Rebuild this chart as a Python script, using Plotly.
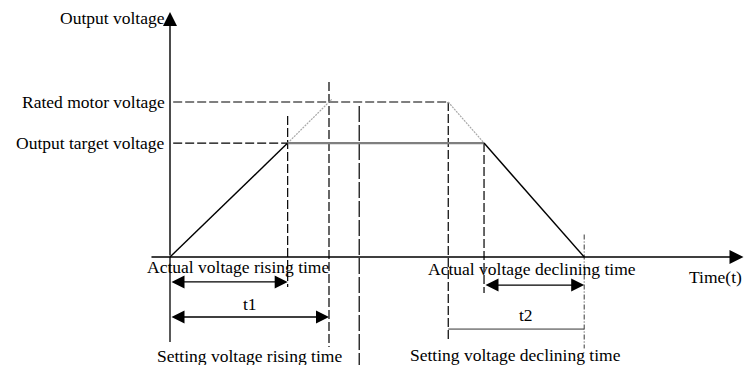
import plotly.graph_objects as go

# Voltage levels, per unit of rated motor voltage
V_RATED = 1.0
V_TARGET = 0.735

# Time instants (common time unit; setting rise time = 1)
T_ACTUAL_RISE_END = 0.74
T_SET_RISE_END = 1.0
T_MARK = 1.19
T_SET_DECL_START = 1.75
T_ACTUAL_DECL_START = 1.975
T_DECL_END = 2.605

# Actual output voltage profile
rise_t = [0.0, T_ACTUAL_RISE_END]
rise_v = [0.0, V_TARGET]
hold_t = [T_ACTUAL_RISE_END, T_ACTUAL_DECL_START]
hold_v = [V_TARGET, V_TARGET]
fall_t = [T_ACTUAL_DECL_START, T_DECL_END]
fall_v = [V_TARGET, 0.0]

# Setting ramps (towards / from rated voltage)
set_rise_t = [T_ACTUAL_RISE_END, 1.02]
set_rise_v = [V_TARGET, 1.02]
set_fall_t = [T_SET_DECL_START, T_ACTUAL_DECL_START]
set_fall_v = [V_RATED, V_TARGET]

X_RANGE = [-1.0692, 3.6289]
Y_RANGE = [-0.6968, 1.6581]

FONT = dict(family="Liberation Serif, Times New Roman, serif", size=17.5, color="black")
DASH = "9px,3px"

fig = go.Figure()


def line(xs, ys, color="black", width=1.2, dash="solid"):
    fig.add_trace(go.Scatter(x=xs, y=ys, mode="lines", hoverinfo="skip",
                             line=dict(color=color, width=width, dash=dash)))


# reference levels
line([0.02, T_SET_DECL_START], [V_RATED, V_RATED], dash=DASH)
line([0.02, T_ACTUAL_RISE_END], [V_TARGET, V_TARGET], dash=DASH)

# vertical marker lines
line([T_ACTUAL_RISE_END] * 2, [0.91, -0.194], dash=DASH)
line([T_SET_RISE_END] * 2, [1.129, -0.581], dash=DASH)
line([T_MARK] * 2, [0.974, -0.70], dash="16px,3px")
line([T_SET_DECL_START] * 2, [V_RATED, -0.548], dash=DASH)
line([T_ACTUAL_DECL_START] * 2, [V_TARGET, -0.232], dash=DASH)
line([T_DECL_END] * 2, [0.145, -0.59], color="#222222", width=0.9, dash="5px,2px,1px,2px")

# y-axis extension below the time axis
line([0, 0], [0, -0.548], width=1.3)

# setting ramps (dotted grey)
line(set_rise_t, set_rise_v, color="#a8a8a8", width=1.2, dash="2px,1px")
line(set_fall_t, set_fall_v, color="#a8a8a8", width=1.2, dash="2px,1px")

# actual output voltage
line(rise_t, rise_v, width=1.4)
line(hold_t, hold_v, color="#7f7f7f", width=2.2)
line(fall_t, fall_v, width=1.4)

# t2 span line
line([T_SET_DECL_START, T_DECL_END], [-0.465, -0.465], color="#333333", width=1.0)

ann = []


def arrow(x0, y0, x1, y1, both=False, width=1.3):
    ann.append(dict(x=x1, y=y1, ax=x0, ay=y0, xref="x", yref="y", axref="x", ayref="y",
                    text="", showarrow=True, arrowhead=2, startarrowhead=2,
                    arrowsize=2.0, startarrowsize=2.0, arrowwidth=width,
                    arrowside="end+start" if both else "end", arrowcolor="black",
                    standoff=0, startstandoff=0))


# axes
arrow(0, 0, 0, 1.58, width=1.4)
arrow(-0.126, 0, 3.607, 0, width=1.4)

# dimension arrows
arrow(0, -0.161, T_ACTUAL_RISE_END, -0.161, both=True)
arrow(0, -0.387, T_SET_RISE_END, -0.387, both=True)
arrow(T_ACTUAL_DECL_START, -0.181, T_DECL_END, -0.181, both=True)


def label(text, x, y, xanchor="center"):
    ann.append(dict(x=x, y=y, xref="x", yref="y", text=text, showarrow=False,
                    xanchor=xanchor, yanchor="middle", font=FONT))


label("Output voltage", -0.017, 1.545, "right")
label("Rated motor voltage", -0.02, V_RATED, "right")
label("Output target voltage", -0.02, V_TARGET, "right")
label("Actual voltage rising time", 0.43, -0.065)
label("t1", T_SET_RISE_END / 2, -0.303)
label("Setting voltage rising time", 0.503, -0.638)
label("Actual voltage declining time", 2.277, -0.077)
label("t2", 2.24, -0.374)
label("Setting voltage declining time", 2.176, -0.63)
label("Time(t)", 3.607, -0.129, "right")

fig.update_layout(
    width=747, height=365,
    margin=dict(l=0, r=0, t=0, b=0),
    paper_bgcolor="white", plot_bgcolor="white",
    showlegend=False,
    xaxis=dict(range=X_RANGE, visible=False, fixedrange=True),
    yaxis=dict(range=Y_RANGE, visible=False, fixedrange=True),
    annotations=ann,
)

fig.write_html("out.html", config={"displayModeBar": False})
